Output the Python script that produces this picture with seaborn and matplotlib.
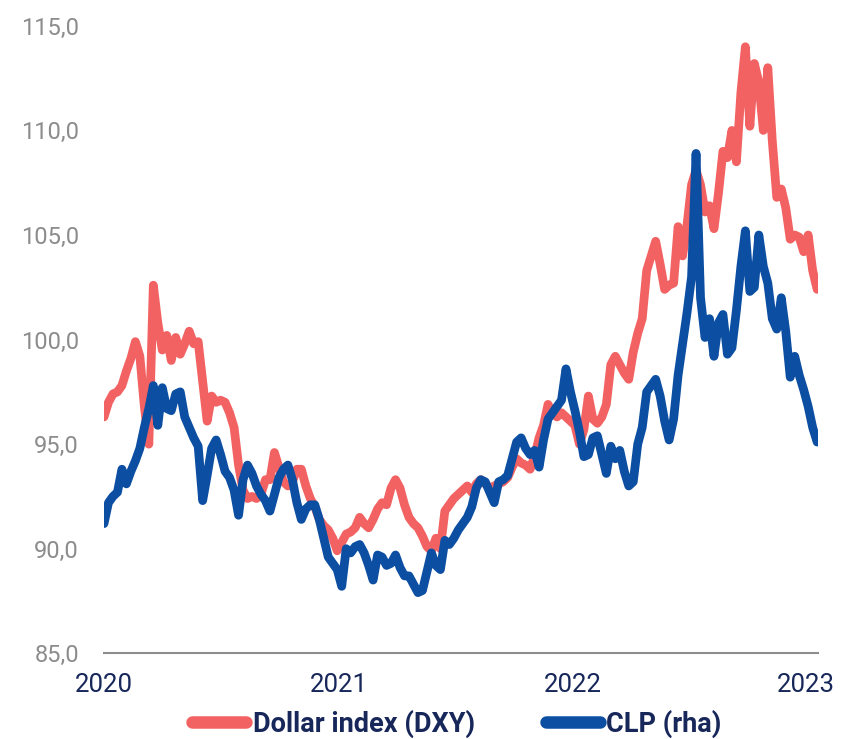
import pandas as pd
import seaborn as sns
import matplotlib.pyplot as plt
from matplotlib.ticker import FuncFormatter

# weekly values (CLP already on the left-hand scale)
dxy = [96.3, 97.0, 97.4, 97.5, 97.8, 98.5, 99.1, 99.9, 99.2, 96.8,
       95.0, 102.6, 100.8, 99.5, 100.2, 99.0, 100.1, 99.3, 99.8, 100.4,
       99.8, 99.9, 98.0, 96.1, 97.3, 97.0, 97.1, 97.0, 96.5, 95.8,
       94.0, 92.8, 92.4, 92.5, 92.4, 92.6, 93.3, 93.3, 94.6, 93.9,
       93.2, 93.0, 93.2, 93.8, 93.8, 93.0, 92.4, 92.0, 91.4, 91.1,
       90.9, 90.5, 89.9, 90.3, 90.7, 90.8, 91.0, 91.5, 91.2, 91.0,
       91.4, 91.9, 92.2, 92.1, 92.9, 93.3, 92.9, 92.1, 91.5, 91.2,
       91.0, 90.6, 90.1, 89.9, 90.5, 90.0, 91.8, 92.1, 92.4, 92.6,
       92.8, 93.0, 92.7, 93.1, 93.3, 93.1, 92.9, 93.0, 93.1, 93.2,
       93.4, 93.9, 94.3, 94.1, 94.0, 93.8, 94.4, 95.3, 95.9, 96.9,
       96.5, 96.3, 96.5, 96.3, 96.1, 95.9, 95.0, 95.7, 97.3, 96.2,
       96.0, 96.3, 96.9, 98.8, 99.2, 98.8, 98.4, 98.1, 99.4, 100.3,
       101.0, 103.3, 104.0, 104.7, 103.6, 102.4, 102.6, 102.7, 105.4, 104.0,
       105.5, 107.4, 108.1, 107.4, 106.1, 106.4, 105.3, 107.0, 109.0, 108.7,
       110.0, 108.5, 111.8, 114.0, 110.2, 113.2, 112.3, 110.0, 113.0, 109.5,
       106.8, 107.2, 106.3, 104.8, 105.0, 104.9, 104.2, 105.0, 103.3, 102.4]

clp = [91.2, 92.2, 92.5, 92.7, 93.8, 93.1, 93.7, 94.2, 94.8, 95.8,
       96.7, 97.8, 95.9, 97.7, 96.7, 96.6, 97.4, 97.5, 96.3, 95.8,
       95.3, 94.9, 92.3, 93.5, 94.8, 95.2, 94.5, 93.7, 93.4, 92.8,
       91.6, 93.3, 94.0, 93.6, 93.0, 92.6, 92.3, 91.8, 92.6, 93.4,
       93.8, 94.0, 93.3, 92.2, 91.4, 91.9, 92.1, 92.1, 91.4, 90.5,
       89.6, 89.3, 89.0, 88.2, 90.0, 89.8, 90.1, 90.2, 89.8, 89.2,
       88.5, 89.7, 89.6, 89.2, 89.3, 89.7, 89.1, 88.7, 88.7, 88.3,
       87.9, 88.0, 88.9, 89.8, 89.2, 89.0, 90.4, 90.2, 90.5, 90.9,
       91.2, 91.5, 92.0, 92.9, 93.3, 93.2, 92.7, 92.2, 93.2, 93.3,
       93.5, 94.3, 95.1, 95.3, 94.8, 94.5, 94.7, 93.9, 95.2, 96.2,
       96.5, 96.8, 97.1, 98.6, 97.5, 96.6, 95.6, 94.4, 94.5, 95.3,
       95.4, 94.5, 93.6, 94.9, 94.3, 94.7, 93.7, 93.0, 93.2, 95.0,
       95.8, 97.5, 97.8, 98.1, 97.3, 96.1, 95.2, 96.2, 98.3, 99.8,
       101.3, 103.0, 108.9, 102.0, 100.1, 101.0, 99.2, 100.8, 101.2, 99.3,
       99.6, 101.4, 103.5, 105.2, 102.3, 102.5, 105.0, 103.5, 102.7, 101.0,
       100.5, 102.0, 100.4, 98.2, 99.2, 98.3, 97.6, 96.8, 95.8, 95.1]

dates = pd.date_range('2020-01-01', periods=len(dxy), freq='7D')
years = ['2020', '2021', '2022', '2023']
yticks = [85, 90, 95, 100, 105, 110, 115]

df = pd.DataFrame({'date': dates, 'Dollar index (DXY)': dxy, 'CLP (rha)': clp})
df = df.melt(id_vars='date', var_name='serie', value_name='valor')

red = '#F26262'
blue = '#0B4EA2'
navy = '#17275A'
grey = '#8C8C8C'

sns.set_style('white')
plt.rcParams['font.family'] = ['Roboto', 'DejaVu Sans']

fig, ax = plt.subplots(figsize=(8.42, 7.39), dpi=100)
fig.subplots_adjust(left=0.1235, right=0.972, bottom=0.116, top=0.965)

sns.lineplot(data=df, x='date', y='valor', hue='serie', palette=[red, blue],
             linewidth=6.3, estimator=None, ax=ax)

ax.set_ylim(85, 115)
ax.set_yticks(yticks)
ax.yaxis.set_major_formatter(FuncFormatter(lambda v, p: f'{v:.1f}'.replace('.', ',')))
ax.set_xlim(dates[0], dates[-1] + pd.Timedelta(days=2))
ax.set_xticks(pd.to_datetime([y + '-01-01' for y in years]))
ax.set_xticklabels(years)
ax.set(xlabel='', ylabel='')

for s in ['top', 'right', 'left']:
    ax.spines[s].set_visible(False)
ax.spines['bottom'].set_color(grey)
ax.spines['bottom'].set_linewidth(1.5)
ax.tick_params(axis='x', length=8, width=1.5, color=grey, labelcolor=navy,
               labelsize=18.5, pad=6)
ax.tick_params(axis='y', length=0, labelcolor=grey, labelsize=17, pad=18)

sns.move_legend(ax, 'center', bbox_to_anchor=(0.494, -0.112), ncol=2,
                frameon=False, title=None, handlelength=2.0, handletextpad=0.25,
                columnspacing=2.6, fontsize=19.5)
leg = ax.get_legend()
for t in leg.get_texts():
    t.set_color(navy)
    t.set_fontweight('bold')
for h in leg.legend_handles:
    h.set_linewidth(9)
    h.set_solid_capstyle('round')

fig.savefig('out.png', dpi=100)
